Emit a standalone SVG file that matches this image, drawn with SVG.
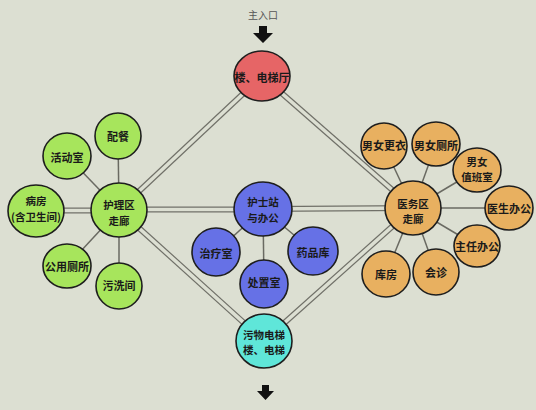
<svg xmlns="http://www.w3.org/2000/svg" width="536" height="410" viewBox="0 0 536 410">
<style>
.t{font-family:"Noto Sans CJK SC","Noto Sans CJK JP",sans-serif;font-size:11px;font-weight:bold;fill:#1a1a1a;text-anchor:middle;dominant-baseline:central}
.t2{font-size:10.5px}
.n{stroke:#1e1e1e;stroke-width:1.6}
.r{fill:#e66566}.g{fill:#a7e55c}.b{fill:#6671e6}.c{fill:#5fe6d9}.o{fill:#e8b060}
.s{stroke:#6a6a62;stroke-width:1.5;fill:none}
.d1{stroke:#707068;stroke-width:6;fill:none}
.d2{stroke:#dcdfd2;stroke-width:3.6;fill:none}
</style>
<rect width="536" height="410" fill="#dcdfd2"/>
<text x="263" y="14" style="font-family:'Noto Sans CJK SC',sans-serif;font-size:10px;fill:#555;text-anchor:middle;dominant-baseline:central">主入口</text>
<path d="M259,26h8v7h6l-10,10l-10,-10h6z" fill="#111"/>
<path d="M262,385h7v6h5l-8.5,9l-8.5,-9h5z" fill="#111"/>
<g id="connectors">
<g class="d1">
<line x1="262" y1="76" x2="119" y2="210"/>
<line x1="262" y1="76" x2="413" y2="208"/>
<line x1="119" y1="210" x2="264" y2="341"/>
<line x1="413" y1="208" x2="264" y2="341"/>
<line x1="119" y1="209.5" x2="263" y2="209.5"/>
<line x1="263" y1="209" x2="413" y2="208"/>
<line x1="36" y1="210.5" x2="119" y2="210.5"/>
</g>
<g class="d2">
<line x1="262" y1="76" x2="119" y2="210"/>
<line x1="262" y1="76" x2="413" y2="208"/>
<line x1="119" y1="210" x2="264" y2="341"/>
<line x1="413" y1="208" x2="264" y2="341"/>
<line x1="119" y1="209.5" x2="263" y2="209.5"/>
<line x1="263" y1="209" x2="413" y2="208"/>
<line x1="36" y1="210.5" x2="119" y2="210.5"/>
</g>
<g class="s">
<line x1="119" y1="210" x2="118" y2="136"/>
<line x1="119" y1="210" x2="67" y2="156"/>
<line x1="119" y1="210" x2="67" y2="266"/>
<line x1="119" y1="210" x2="119" y2="286"/>
<line x1="263" y1="209" x2="216" y2="252"/>
<line x1="263" y1="209" x2="313" y2="251"/>
<line x1="263" y1="209" x2="264" y2="284"/>
<line x1="413" y1="208" x2="384" y2="146"/>
<line x1="413" y1="208" x2="436" y2="144"/>
<line x1="413" y1="208" x2="477" y2="170"/>
<line x1="413" y1="208" x2="509" y2="208"/>
<line x1="413" y1="208" x2="477" y2="246"/>
<line x1="413" y1="208" x2="436" y2="272"/>
<line x1="413" y1="208" x2="386" y2="274"/>
</g>
</g>
<g id="lobby"><ellipse class="n r" cx="262" cy="76" rx="28" ry="25"/><text class="t" x="262" y="77">楼、电梯厅</text></g>
<g id="nursing-corridor"><ellipse class="n g" cx="119" cy="210" rx="28" ry="27"/><text class="t t2" x="119" y="204.5">护理区</text><text class="t t2" x="119" y="220">走廊</text></g>
<g id="peican"><ellipse class="n g" cx="118" cy="136" rx="23" ry="23"/><text class="t" x="118" y="136">配餐</text></g>
<g id="activity"><ellipse class="n g" cx="67" cy="156" rx="24" ry="23"/><text class="t" x="67" y="157">活动室</text></g>
<g id="ward"><ellipse class="n g" cx="36" cy="211" rx="28" ry="26"/><text class="t t2" x="36" y="200.5">病房</text><text class="t t2" x="36" y="216">(含卫生间)</text></g>
<g id="toilet"><ellipse class="n g" cx="67" cy="266" rx="24" ry="22"/><text class="t" x="67" y="266">公用厕所</text></g>
<g id="sluice"><ellipse class="n g" cx="119" cy="286" rx="23" ry="23"/><text class="t" x="119" y="285">污洗间</text></g>
<g id="nurse-station"><ellipse class="n b" cx="263" cy="209" rx="29" ry="27"/><text class="t t2" x="263" y="201.5">护士站</text><text class="t t2" x="263" y="217">与办公</text></g>
<g id="treatment"><ellipse class="n b" cx="216" cy="252" rx="24" ry="24"/><text class="t" x="216" y="253">治疗室</text></g>
<g id="pharmacy"><ellipse class="n b" cx="313" cy="251" rx="25" ry="24"/><text class="t" x="313" y="252">药品库</text></g>
<g id="disposal"><ellipse class="n b" cx="264" cy="284" rx="24" ry="24"/><text class="t" x="264" y="282">处置室</text></g>
<g id="dirty-lift"><ellipse class="n c" cx="264" cy="341" rx="28" ry="27"/><text class="t t2" x="264" y="334">污物电梯</text><text class="t t2" x="264" y="349.5">楼、电梯</text></g>
<g id="medical-corridor"><ellipse class="n o" cx="413" cy="208" rx="28" ry="27"/><text class="t t2" x="413" y="203">医务区</text><text class="t t2" x="413" y="218.5">走廊</text></g>
<g id="changing"><ellipse class="n o" cx="384" cy="146" rx="23" ry="23"/><text class="t" x="384" y="145">男女更衣</text></g>
<g id="wc"><ellipse class="n o" cx="436" cy="144" rx="24" ry="22"/><text class="t" x="436" y="145">男女厕所</text></g>
<g id="duty"><ellipse class="n o" cx="477" cy="170" rx="24" ry="22"/><text class="t t2" x="477" y="161">男女</text><text class="t t2" x="477" y="176.5">值班室</text></g>
<g id="doctor"><ellipse class="n o" cx="509" cy="208" rx="24" ry="22"/><text class="t" x="509" y="208">医生办公</text></g>
<g id="director"><ellipse class="n o" cx="477" cy="246" rx="23" ry="21"/><text class="t" x="477" y="246">主任办公</text></g>
<g id="consult"><ellipse class="n o" cx="436" cy="272" rx="23" ry="23"/><text class="t" x="436" y="272">会诊</text></g>
<g id="storage"><ellipse class="n o" cx="386" cy="274" rx="24" ry="23"/><text class="t" x="386" y="274">库房</text></g>
</svg>
